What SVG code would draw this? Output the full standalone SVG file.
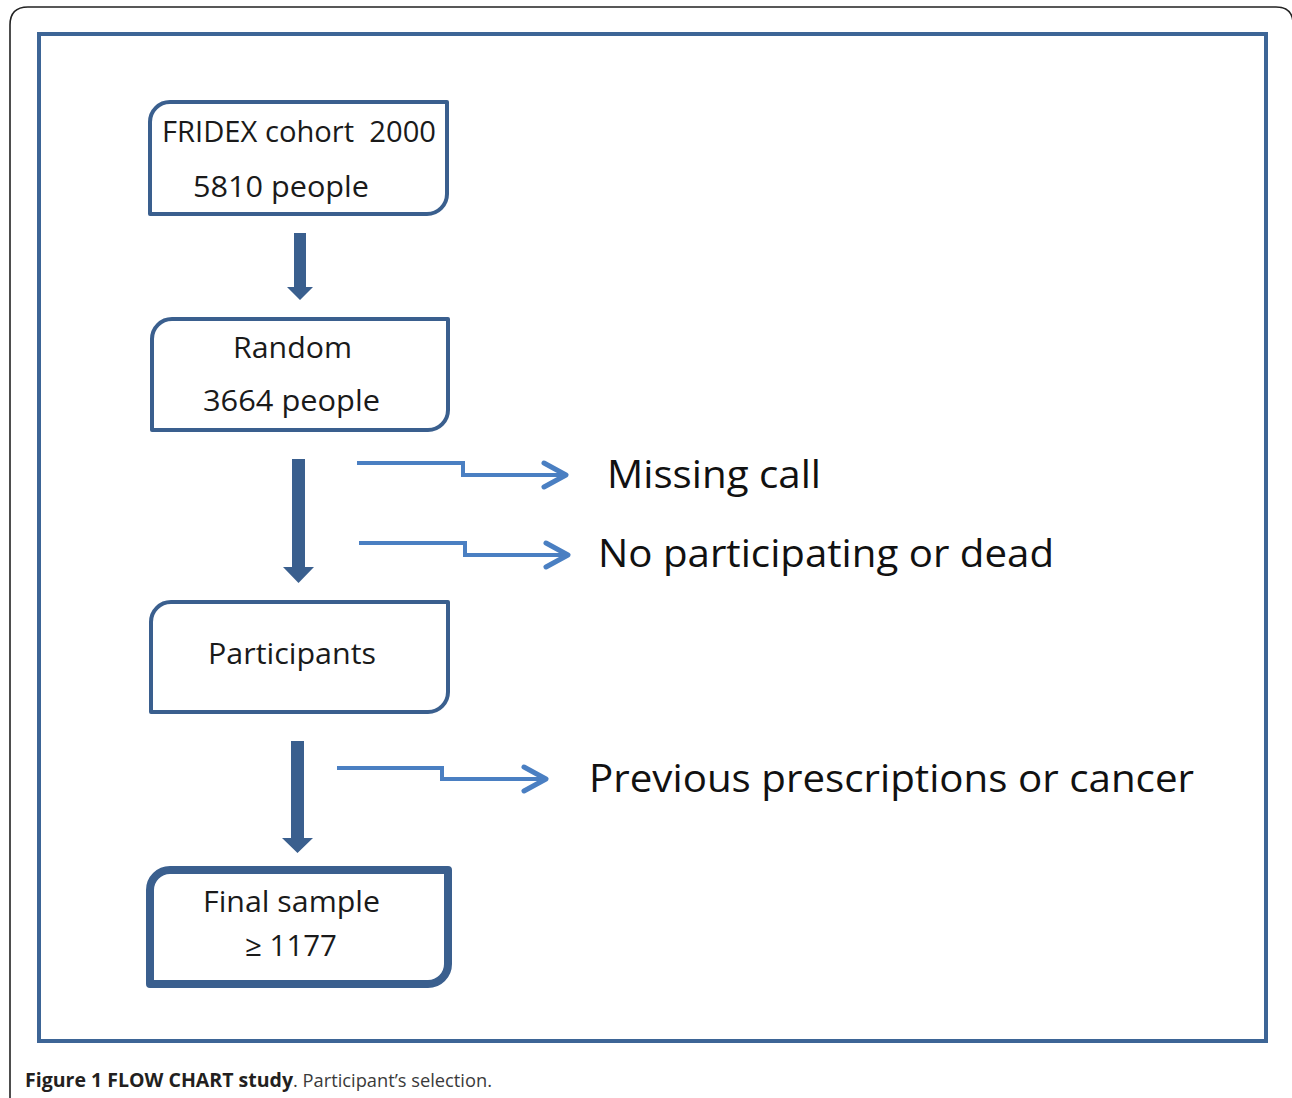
<svg xmlns="http://www.w3.org/2000/svg" width="1292" height="1098" viewBox="0 0 1292 1098">
<style>
.box{fill:#ffffff;stroke:#3a5f8e;stroke-width:4;stroke-linejoin:round}
.thick{stroke-width:8}
.down{fill:#3a5f8e}
.conn{fill:none;stroke:#4a7fc2;stroke-width:4;stroke-linejoin:miter}
.chev{fill:none;stroke:#4a7fc2;stroke-width:5;stroke-linecap:round;stroke-linejoin:round}
.bt{font-family:"Open Sans","Liberation Sans",sans-serif;font-size:29px;fill:#1a1a1a}
.st{font-family:"Open Sans","Liberation Sans",sans-serif;font-size:39px;fill:#111111}
.cap{font-family:"Open Sans","Liberation Sans",sans-serif;font-size:19px}
</style>
<rect width="1292" height="1098" fill="#ffffff"/>
<path d="M10,1098 V25 Q10,7 28,7 H1276 Q1293,7 1293,24 V1098" fill="none" stroke="#222222" stroke-width="1.6"/>
<rect x="39" y="34" width="1227" height="1007" fill="none" stroke="#3d6596" stroke-width="4"/>

<g id="n1">
<path class="box" d="M170,102 H447 V194 A20,20 0 0 1 427,214 H150 V122 A20,20 0 0 1 170,102 Z"/>
<text class="bt" x="162" y="142" textLength="274" lengthAdjust="spacingAndGlyphs" xml:space="preserve">FRIDEX cohort  2000</text>
<text class="bt" x="193" y="197" textLength="176" lengthAdjust="spacingAndGlyphs">5810 people</text>
</g>
<g id="n2">
<path class="box" d="M172,319 H448 V410 A20,20 0 0 1 428,430 H152 V339 A20,20 0 0 1 172,319 Z"/>
<text class="bt" x="233" y="358" textLength="119" lengthAdjust="spacingAndGlyphs">Random</text>
<text class="bt" x="203" y="411" textLength="177" lengthAdjust="spacingAndGlyphs">3664 people</text>
</g>
<g id="n3">
<path class="box" d="M171,602 H448 V692 A20,20 0 0 1 428,712 H151 V622 A20,20 0 0 1 171,602 Z"/>
<text class="bt" x="208" y="664" textLength="168" lengthAdjust="spacingAndGlyphs">Participants</text>
</g>
<g id="n4">
<path class="box thick" d="M170,870 H448 V964 A20,20 0 0 1 428,984 H150 V890 A20,20 0 0 1 170,870 Z"/>
<text class="bt" x="203" y="912" textLength="177" lengthAdjust="spacingAndGlyphs">Final sample</text>
<text class="bt" x="245" y="956" textLength="92" lengthAdjust="spacingAndGlyphs">≥ 1177</text>
</g>
<g id="l1"><text class="st" x="607" y="488" textLength="214" lengthAdjust="spacingAndGlyphs">Missing call</text></g>
<g id="l2"><text class="st" x="598" y="567" textLength="456" lengthAdjust="spacingAndGlyphs">No participating or dead</text></g>
<g id="l3"><text class="st" x="589" y="792" textLength="605" lengthAdjust="spacingAndGlyphs">Previous prescriptions or cancer</text></g>

<g id="connectors">
<polygon class="down" points="294,233 306,233 306,287 313,287 300,300 287,287 294,287"/>
<polygon class="down" points="292,459 305,459 305,567 314,567 298.5,583 283,567 292,567"/>
<polygon class="down" points="291,741 304,741 304,838 313,838 297.5,853 282,838 291,838"/>
<path class="conn" d="M357,463 H463 V475 H564"/>
<path class="chev" d="M544,463 L566,475 L544,487"/>
<path class="conn" d="M359,543 H465 V555 H566"/>
<path class="chev" d="M546,543 L568,555 L546,567"/>
<path class="conn" d="M337,768 H442 V779 H544"/>
<path class="chev" d="M524,767 L546,779 L524,791"/>
</g>

<g id="caption">
<text class="cap" x="25" y="1087" textLength="268" lengthAdjust="spacingAndGlyphs" font-weight="bold" fill="#231f20">Figure 1 FLOW CHART study</text>
<text class="cap" x="293" y="1087" textLength="199" lengthAdjust="spacingAndGlyphs" fill="#3a3a3a">. Participant’s selection.</text>
</g>
</svg>
